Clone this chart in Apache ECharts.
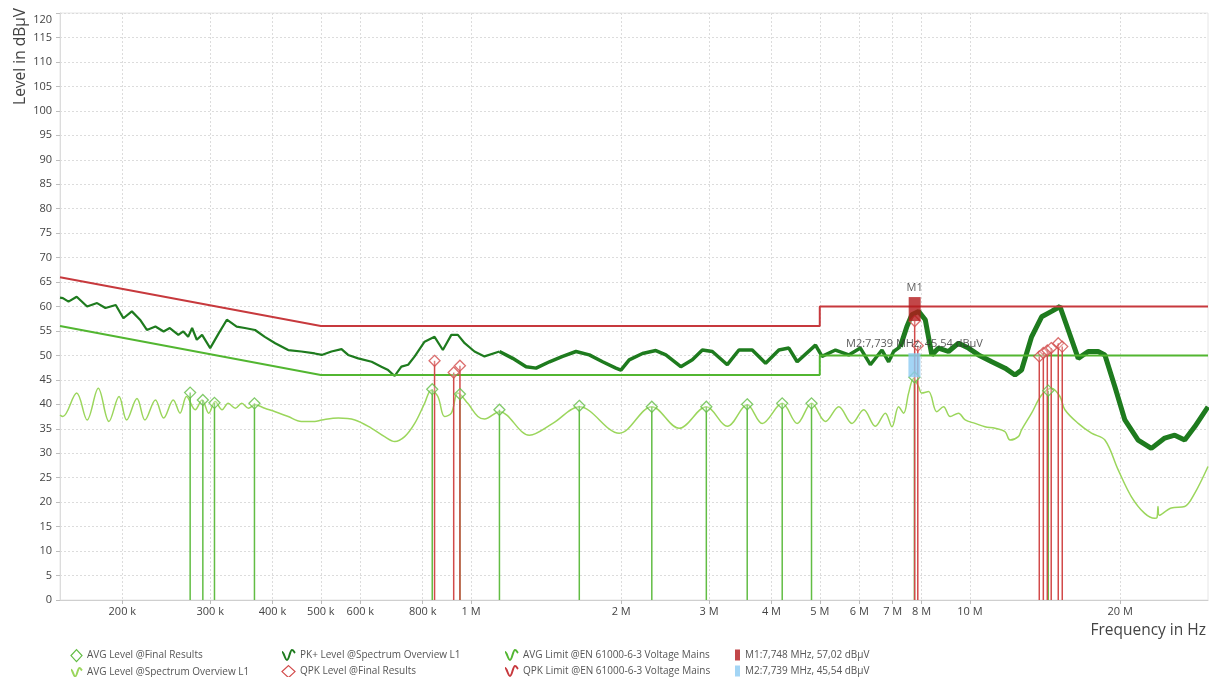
<!DOCTYPE html>
<html><head><meta charset="utf-8">
<script src="https://cdn.jsdelivr.net/npm/echarts@6/dist/echarts.min.js"></script>
<style>html,body{margin:0;padding:0;background:#fff}#c{width:1209px;height:677px}</style>
</head><body><div id="c"></div>
<script>
// ---- tick labels (frequency in MHz) ----
const xTickMHz = [0.2,0.3,0.4,0.5,0.6,0.8,1,2,3,4,5,6,7,8,10,20];

// ---- limits ----
const qpkLimitFreq  = [0.15, 0.5, 5, 5, 30];
const qpkLimitLevel = [66, 56, 56, 60, 60];
const avgLimitFreq  = [0.15, 0.5, 5, 5, 30];
const avgLimitLevel = [56, 46, 46, 50, 50];

// ---- PK+ Level @Spectrum Overview L1 ----
const pkFreq = [0.150,0.152,0.156,0.162,0.170,0.178,0.185,0.194,0.201,0.209,0.217,0.224,0.233,0.242,0.249,0.259,0.265,0.271,0.276,0.282,0.289,0.300,0.312,0.324,0.339,0.352,0.369,0.386,0.405,0.430,0.457,0.486,0.502,0.525,0.550,0.567,0.594,0.632,0.661,0.682,0.703,0.725,0.748,0.771,0.807,0.845,0.878,0.913,0.941,0.971,1.016,1.064,1.140,1.212,1.289,1.350,1.436,1.526,1.623,1.726,1.835,1.951,1.997,2.075,2.206,2.346,2.457,2.633,2.777,2.908,3.045,3.263,3.443,3.661,3.894,4.140,4.335,4.505,4.902,5.053,5.375,5.715,6.030,6.315,6.662,6.871,7.031,7.251,7.475,7.649,7.889,8.136,8.387,8.650,9.057,9.484,9.931,10.40,11.06,11.76,12.31,12.69,13.29,13.92,14.57,15.15,15.74,16.48,17.26,18.07,18.64,19.52,20.44,21.73,23.10,24.57,25.73,26.94,28.21,30.0];
const pkLevel = [61.8,61.7,61.0,62.0,60.0,60.7,59.7,60.3,57.6,59.0,57.3,55.2,55.9,54.9,55.6,54.2,54.9,53.8,55.6,53.2,54.2,51.5,54.5,57.3,55.9,55.6,55.2,53.8,52.5,51.1,50.8,50.4,50.1,50.8,51.3,50.1,49.4,48.7,47.7,47.0,45.8,47.7,48.1,49.8,52.8,53.8,51.1,54.2,54.2,52.5,50.8,49.8,50.8,49.4,47.7,47.4,48.7,49.8,50.8,50.1,48.7,47.4,47.0,49.1,50.4,51.0,50.1,47.7,49.1,51.1,50.8,48.1,51.1,51.1,48.4,51.1,51.5,48.7,52.1,49.8,51.1,50.1,51.5,48.1,51.1,48.7,50.8,51.8,55.9,58.3,59.0,57.3,50.1,51.5,50.8,52.5,51.5,50.1,48.7,47.4,46.0,47.0,53.8,57.9,59.0,60.0,55.2,49.4,50.8,50.8,50.1,43.6,36.8,32.7,31.0,33.1,33.7,32.7,35.4,39.5];

// ---- AVG Level @Spectrum Overview L1 ----
const avgSpecFreq = [0.150,0.152,0.162,0.170,0.179,0.188,0.197,0.204,0.214,0.222,0.233,0.242,0.253,0.261,0.269,0.280,0.289,0.298,0.307,0.317,0.326,0.337,0.347,0.358,0.369,0.386,0.405,0.430,0.457,0.486,0.502,0.542,0.585,0.632,0.671,0.703,0.736,0.771,0.807,0.832,0.858,0.885,0.913,0.941,0.985,1.032,1.064,1.140,1.309,1.458,1.648,1.982,2.303,2.612,2.962,3.263,3.577,3.834,4.204,4.505,4.813,5.133,5.458,5.801,6.124,6.462,6.767,6.976,7.194,7.362,7.534,7.709,7.889,8.005,8.260,8.581,8.851,9.128,9.484,9.781,10.24,10.72,11.23,11.76,12.03,12.50,12.69,13.29,13.92,14.57,15.15,15.50,16.48,17.52,18.64,19.82,21.07,22.40,23.46,23.70,23.82,23.95,25.33,26.94,28.21,30.0];
const avgSpecLevel = [37.8,37.5,42.3,36.8,43.3,36.5,41.6,36.8,41.2,36.8,40.9,37.2,40.9,38.2,41.6,38.9,40.9,38.2,40.6,38.9,40.2,39.2,40.2,39.2,39.9,39.2,38.5,37.5,36.5,36.5,36.8,37.2,36.8,35.1,33.4,32.4,33.4,36.1,40.2,42.9,41.6,37.5,38.2,42.3,40.2,37.5,37.0,38.5,33.7,36.1,39.5,34.1,39.5,35.1,39.5,35.5,39.9,36.1,40.2,36.1,40.2,36.5,39.5,36.1,38.9,35.5,38.2,35.4,39.5,38.2,42.3,45.3,43.6,42.3,42.6,38.5,39.5,37.5,38.2,36.8,36.1,35.4,35.1,34.4,32.7,33.4,34.8,38.2,41.9,43.3,41.6,38.9,36.1,34.1,32.7,26.6,21.1,17.7,16.7,16.8,19.1,17.3,18.8,19.1,21.8,27.3];

// ---- AVG Level @Final Results ----
const avgFinalFreq  = [0.2735,0.290,0.306,0.368,0.836,0.950,1.140,1.648,2.303,2.962,3.577,4.204,4.813,7.739,14.35];
const avgFinalLevel = [42.4,40.9,40.3,40.2,43.1,42.1,38.9,39.7,39.5,39.5,40.0,40.2,40.2,45.54,42.8];

// ---- QPK Level @Final Results ----
const qpkFinalFreq  = [0.845,0.923,0.950,7.748,7.86,13.77,14.03,14.29,14.55,15.03,15.31];
const qpkFinalLevel = [48.9,46.5,47.9,57.02,52.0,49.8,50.5,51.0,51.5,52.5,51.8];

// ---- markers ----
const markerFreq   = [7.748, 7.739];
const markerLevel  = [57.02, 45.54];
const markerLabels = ['M1', 'M2:7,739 MHz, 45,54 dBµV'];

// ---- names ----
const N = {
  avgFinal: 'AVG Level @Final Results',
  avgSpec: 'AVG Level @Spectrum Overview L1',
  pk: 'PK+ Level @Spectrum Overview L1',
  qpkFinal: 'QPK Level @Final Results',
  avgLim: 'AVG Limit @EN 61000-6-3 Voltage Mains',
  qpkLim: 'QPK Limit @EN 61000-6-3 Voltage Mains',
  m1: 'M1:7,748 MHz, 57,02 dBµV',
  m2: 'M2:7,739 MHz, 45,54 dBµV'
};
const C = {
  qpkLim: '#c7393d', avgLim: '#52b631', pk: '#1e7b1e', avgSpec: '#9bd65c',
  avgFinal: '#62bd44', qpkFinal: '#d24a4a', m1: '#b3191b', m2: '#8ccaf2'
};
const FONT = 'Open Sans';

const lg = f => Math.log10(f * 1e6);
const pts = (fs, ls) => fs.map((f, i) => [lg(f), ls[i]]);
const pkAll = pts(pkFreq, pkLevel);
const pkPart = (a, b) => pkAll.filter((p, i) => pkFreq[i] >= a && pkFreq[i] <= b);

function stems(name, color, fs, ls, z) {
  return {
    type: 'custom', name, z, silent: true,
    data: pts(fs, ls),
    renderItem: (params, api) => {
      const top = api.coord([api.value(0), api.value(1)]);
      const bot = api.coord([api.value(0), 0]);
      return { type: 'line', shape: { x1: top[0], y1: top[1], x2: bot[0], y2: bot[1] },
               style: { stroke: color, lineWidth: 1.5 } };
    }
  };
}
function diamonds(name, color, fs, ls, z) {
  return {
    type: 'scatter', name, z, silent: true, symbol: 'diamond', symbolSize: 11,
    itemStyle: { color: 'rgba(255,255,255,0.35)', borderColor: color, borderWidth: 1.3 },
    data: pts(fs, ls)
  };
}
function marker(i, name, color) {
  return {
    type: 'scatter', name, z: 9, silent: true, symbol: 'rect', symbolSize: [12, 24],
    symbolOffset: [0, '-50%'],
    itemStyle: { color },
    label: { show: true, position: 'top', distance: 4, formatter: markerLabels[i],
             color: '#333', fontSize: 11, fontFamily: FONT },
    data: [[lg(markerFreq[i]), markerLevel[i]]]
  };
}

const wave = 'path://M0,3 C2,3 3,11 5,11 C7,11 8,1 10,1 C11.5,1 12,3 13,4';
const waveItem = (name, color) => ({ name, icon: wave,
  itemStyle: { color: 'rgba(0,0,0,0)', borderColor: color, borderWidth: 2 } });
const diaItem = (name, color) => ({ name, icon: 'diamond',
  itemStyle: { color: '#fff', borderColor: color, borderWidth: 1.2 } });
const legendBase = { orient: 'vertical', top: 649, height: 60, itemGap: 4, itemHeight: 12, itemWidth: 12,
  padding: 0, textStyle: { fontSize: 10, lineHeight: 12, color: '#555', fontFamily: FONT }, selectedMode: false };

const option = {
  animation: false,
  backgroundColor: '#fff',
  grid: { left: 60, right: 0, top: 13, bottom: 77, show: true, borderColor: '#e6e6e6', borderWidth: 1 },
  xAxis: {
    type: 'value', min: lg(0.15), max: lg(30),
    name: 'Frequency in Hz', nameLocation: 'end', nameGap: -2,
    nameTextStyle: { align: 'right', verticalAlign: 'top', padding: [23, 0, 0, 0], fontSize: 15.5, color: '#444', fontFamily: FONT },
    axisLine: { show: true, lineStyle: { color: '#cfcfcf' } },
    axisTick: { show: true, length: 4, lineStyle: { color: '#bdbdbd' }, customValues: xTickMHz.map(lg) },
    axisLabel: { customValues: xTickMHz.map(lg), margin: 6, fontSize: 11, color: '#444', fontFamily: FONT,
      formatter: v => { const f = Math.pow(10, v) / 1e6; return f < 1 ? Math.round(f * 1000) + ' k' : Math.round(f) + ' M'; } },
    splitLine: { show: true, lineStyle: { color: '#dcdcdc', type: [2, 2] } }
  },
  yAxis: {
    type: 'value', min: 0, max: 120, interval: 5,
    name: 'Level in dBµV', nameLocation: 'end', nameGap: 5, nameRotate: 90,
    nameTextStyle: { align: 'right', verticalAlign: 'bottom', padding: [0, 0, 31, 0], fontSize: 15.5, color: '#444', fontFamily: FONT },
    axisLine: { show: true, lineStyle: { color: '#dcdcdc' } },
    axisTick: { show: true, length: 4, lineStyle: { color: '#bdbdbd' } },
    axisLabel: { margin: 8, fontSize: 11, color: '#444', fontFamily: FONT,
      formatter: v => v === 120 ? '{t|120}' : String(v),
      rich: { t: { padding: [14, 0, 0, 0], fontSize: 11, color: '#444', fontFamily: FONT } } },
    splitLine: { show: true, lineStyle: { color: '#dcdcdc', type: [2, 2] } }
  },
  legend: [
    Object.assign({}, legendBase, { left: 70, itemWidth: 11, data: [diaItem(N.avgFinal, C.avgFinal), waveItem(N.avgSpec, C.avgSpec)] }),
    Object.assign({}, legendBase, { left: 281, itemWidth: 13, data: [waveItem(N.pk, C.pk), diaItem(N.qpkFinal, C.qpkFinal)] }),
    Object.assign({}, legendBase, { left: 504, itemWidth: 13, data: [waveItem(N.avgLim, C.avgLim), waveItem(N.qpkLim, C.qpkLim)] }),
    Object.assign({}, legendBase, { left: 735, itemWidth: 5, itemHeight: 11, data: [{ name: N.m1, icon: 'rect' }, { name: N.m2, icon: 'rect' }] })
  ],
  series: [
    { type: 'line', name: N.avgSpec, z: 2, silent: true, showSymbol: false, smooth: 0.35,
      lineStyle: { color: C.avgSpec, width: 1.5 }, itemStyle: { color: C.avgSpec }, data: pts(avgSpecFreq, avgSpecLevel) },
    { type: 'line', name: N.pk, z: 3, silent: true, showSymbol: false,
      lineStyle: { color: C.pk, width: 2.2 }, itemStyle: { color: C.pk }, data: pkPart(0, 1.14) },
    { type: 'line', name: N.pk, z: 3, silent: true, showSymbol: false,
      lineStyle: { color: C.pk, width: 3.5 }, itemStyle: { color: C.pk }, data: pkPart(1.14, 7.26) },
    { type: 'line', name: N.pk, z: 3, silent: true, showSymbol: false,
      lineStyle: { color: C.pk, width: 5 }, itemStyle: { color: C.pk }, data: pkPart(7.25, 31) },
    { type: 'line', name: N.avgLim, z: 4, silent: true, showSymbol: false,
      lineStyle: { color: C.avgLim, width: 2 }, itemStyle: { color: C.avgLim }, data: pts(avgLimitFreq, avgLimitLevel) },
    { type: 'line', name: N.qpkLim, z: 4, silent: true, showSymbol: false,
      lineStyle: { color: C.qpkLim, width: 2 }, itemStyle: { color: C.qpkLim }, data: pts(qpkLimitFreq, qpkLimitLevel) },
    stems(N.avgFinal, C.avgFinal, avgFinalFreq, avgFinalLevel, 5),
    stems(N.qpkFinal, C.qpkFinal, qpkFinalFreq, qpkFinalLevel, 6),
    diamonds(N.avgFinal, C.avgFinal, avgFinalFreq, avgFinalLevel, 7),
    diamonds(N.qpkFinal, C.qpkFinal, qpkFinalFreq, qpkFinalLevel, 8),
    marker(0, N.m1, C.m1),
    marker(1, N.m2, C.m2)
  ]
};
echarts.init(document.getElementById('c')).setOption(option);
</script></body></html>
